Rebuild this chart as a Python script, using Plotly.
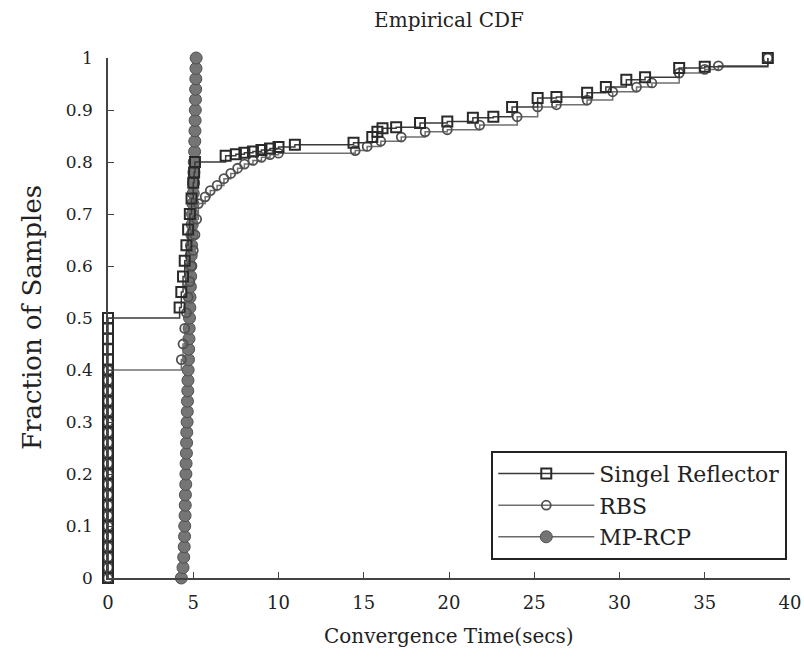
import plotly.graph_objects as go

# ---- data ----
sr_x = [0, 0, 0, 0, 0, 0, 0, 0, 0, 0, 0, 0, 0, 0, 0, 0, 0, 0, 0, 0, 0, 0, 0, 0, 0, 0,
        4.2, 4.3, 4.4, 4.5, 4.6, 4.7, 4.8, 4.9, 5.0, 5.05, 5.1,
        6.9, 7.5, 8.0, 8.5, 9.0, 9.5, 10.0, 10.96,
        14.4, 15.5, 15.8, 16.1, 16.9, 18.3, 19.9, 21.4, 22.6, 23.7, 25.2, 26.3,
        28.1, 29.2, 30.4, 31.5, 33.5, 35.0, 38.7]
sr_y = [0, 0.02, 0.04, 0.06, 0.08, 0.10, 0.12, 0.14, 0.16, 0.18, 0.20, 0.22, 0.24,
        0.26, 0.28, 0.30, 0.32, 0.34, 0.36, 0.38, 0.40, 0.42, 0.44, 0.46, 0.48, 0.50,
        0.52, 0.55, 0.58, 0.61, 0.64, 0.67, 0.70, 0.73, 0.76, 0.78, 0.80,
        0.812, 0.815, 0.818, 0.820, 0.823, 0.826, 0.829, 0.833,
        0.837, 0.848, 0.858, 0.865, 0.867, 0.875, 0.878, 0.885, 0.887, 0.906, 0.923, 0.925,
        0.933, 0.944, 0.958, 0.963, 0.981, 0.983, 1.0]

rbs_x = [0, 0, 0, 0, 0, 0, 0, 0, 0, 0, 0, 0, 0, 0, 0, 0, 0, 0, 0, 0, 0,
         4.3, 4.4, 4.5, 4.6, 4.7, 4.8, 4.9, 5.0, 5.1, 5.2, 5.3,
         5.7, 6.0, 6.4, 6.8, 7.2, 7.6, 8.0, 8.5, 9.0, 9.5, 10.0,
         14.5, 15.2, 16.0, 17.2, 18.6, 19.9, 21.8, 24.0, 25.2, 26.3, 28.1,
         29.6, 31.0, 31.9, 33.5, 35.0, 35.8, 38.7]
rbs_y = [0, 0.02, 0.04, 0.06, 0.08, 0.10, 0.12, 0.14, 0.16, 0.18, 0.20, 0.22, 0.24,
         0.26, 0.28, 0.30, 0.32, 0.34, 0.36, 0.38, 0.40,
         0.42, 0.45, 0.48, 0.51, 0.54, 0.57, 0.60, 0.63, 0.66, 0.69, 0.72,
         0.733, 0.745, 0.755, 0.768, 0.778, 0.788, 0.796, 0.803, 0.809, 0.814, 0.817,
         0.822, 0.830, 0.840, 0.848, 0.858, 0.862, 0.871, 0.887, 0.906, 0.910, 0.919,
         0.935, 0.944, 0.952, 0.971, 0.978, 0.985, 1.0]

mp_x = [4.30, 4.40, 4.44, 4.47, 4.49, 4.50, 4.52, 4.53, 4.54, 4.56, 4.57, 4.58, 4.60, 4.61,
        4.62, 4.64, 4.65, 4.66, 4.68, 4.69, 4.70, 4.72, 4.73, 4.75, 4.76, 4.78,
        4.80, 4.81, 4.83, 4.85, 4.86, 4.88, 4.90, 4.92, 4.94, 4.96, 4.98, 5.00,
        5.02, 5.04, 5.06, 5.08, 5.09, 5.10, 5.11, 5.12, 5.13, 5.14, 5.15, 5.16, 5.17]
mp_y = [0, 0.02, 0.04, 0.06, 0.08, 0.10, 0.12, 0.14, 0.16, 0.18, 0.20, 0.22, 0.24,
        0.26, 0.28, 0.30, 0.32, 0.34, 0.36, 0.38, 0.40, 0.42, 0.44, 0.46, 0.48, 0.50,
        0.52, 0.54, 0.56, 0.58, 0.60, 0.62, 0.64, 0.66, 0.68, 0.70, 0.72, 0.74,
        0.76, 0.78, 0.80, 0.82, 0.84, 0.86, 0.88, 0.90, 0.92, 0.94, 0.96, 0.98, 1.00]

x_ticks = [0, 5, 10, 15, 20, 25, 30, 35, 40]
y_ticks = [0, 0.1, 0.2, 0.3, 0.4, 0.5, 0.6, 0.7, 0.8, 0.9, 1]
y_tick_text = ["0", "0.1", "0.2", "0.3", "0.4", "0.5", "0.6", "0.7", "0.8", "0.9", "1"]

series_names = ["Singel Reflector", "RBS", "MP-RCP"]

FONT = "DejaVu Serif"
TXT = "#222222"

fig = go.Figure()
fig.add_trace(go.Scatter(
    x=mp_x, y=mp_y, name=series_names[2], mode="lines+markers", line_shape="hv",
    line=dict(color="#6a6a6a", width=1.5),
    marker=dict(symbol="circle", size=12, color="#757575", line=dict(color="#505050", width=1)),
    cliponaxis=False, legendrank=3))
fig.add_trace(go.Scatter(
    x=rbs_x, y=rbs_y, name=series_names[1], mode="lines+markers", line_shape="hv",
    line=dict(color="#707070", width=1.5),
    marker=dict(symbol="circle-open", size=9, color="#505050", line=dict(width=1.8)),
    cliponaxis=False, legendrank=2))
fig.add_trace(go.Scatter(
    x=sr_x, y=sr_y, name=series_names[0], mode="lines+markers", line_shape="hv",
    line=dict(color="#3a3a3a", width=1.5),
    marker=dict(symbol="square-open", size=10, color="#2a2a2a", line=dict(width=2)),
    cliponaxis=False, legendrank=1))

fig.update_layout(
    width=804, height=657,
    margin=dict(l=108, r=14, t=58, b=79, autoexpand=False),
    paper_bgcolor="white", plot_bgcolor="white",
    font=dict(family=FONT, size=17, color=TXT),
    title=dict(text="Empirical CDF", x=0.5585, xanchor="center", y=0.969, yanchor="middle",
               font=dict(family=FONT, size=20, color=TXT)),
    showlegend=True,
    legend=dict(x=0.996, y=0.035, xanchor="right", yanchor="bottom",
                bordercolor="#222222", borderwidth=2, bgcolor="white",
                font=dict(family=FONT, size=22, color=TXT),
                itemwidth=96, tracegroupgap=0, traceorder="normal"),
    annotations=[
        dict(text="Convergence Time(secs)", xref="paper", yref="paper",
             x=0.5, y=-0.1115, xanchor="center", yanchor="middle", showarrow=False,
             font=dict(family=FONT, size=20, color=TXT)),
        dict(text="Fraction of Samples", xref="paper", yref="paper",
             x=-0.1114, y=0.5, xanchor="center", yanchor="middle", showarrow=False,
             textangle=-90, font=dict(family=FONT, size=26, color=TXT)),
    ],
)
fig.update_xaxes(
    range=[0, 40], tickvals=x_ticks, showgrid=False, zeroline=False, automargin=False,
    showline=True, linecolor="#444444", linewidth=1.5, mirror=False,
    ticks="inside", ticklen=6, tickcolor="#444444", ticklabelstandoff=8,
    tickfont=dict(family=FONT, size=18, color=TXT))
fig.update_yaxes(
    range=[0, 1], tickvals=y_ticks, ticktext=y_tick_text, showgrid=False, zeroline=False,
    automargin=False,
    showline=True, linecolor="#444444", linewidth=1.5, mirror=False,
    ticks="inside", ticklen=6, tickcolor="#444444", ticklabelstandoff=10,
    tickfont=dict(family=FONT, size=17, color=TXT))

fig.write_html("out.html")
